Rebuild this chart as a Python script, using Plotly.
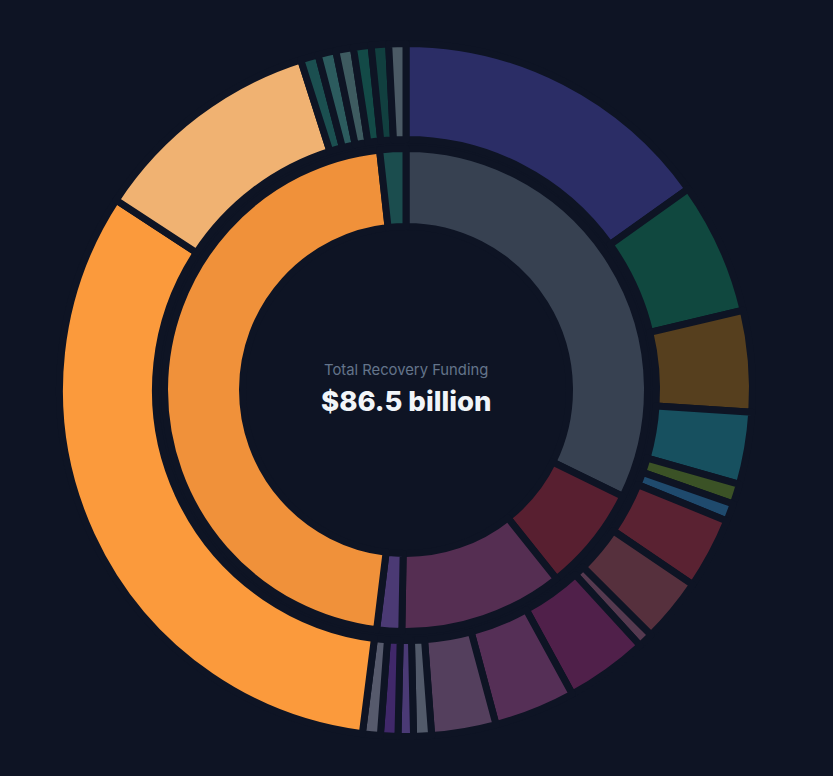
import plotly.graph_objects as go

# inner ring (programme areas), values in $ billion
inner_labels = ["Infrastructure", "Health", "Social Services", "Education", "Housing", "Environment"]
inner_values = [27.9, 6.08, 9.5, 1.44, 40.05, 1.51]
inner_colors = ["#374151", "#581f30", "#552e52", "#4b3a74", "#f0913a", "#1b4d4e"]

# outer ring (individual programmes), values in $ billion
outer_labels = ["Roads & Bridges", "Water Systems", "Energy Grid", "Public Transit", "Broadband", "Ports",
                "Hospitals", "Public Health", "Mental Health", "Income Support", "Child Care", "Elder Care",
                "Food Security", "Schools", "Skills Training", "Universities",
                "Housing Reconstruction", "Rental Assistance",
                "Flood Defence", "Reforestation", "Clean Air", "Coastal Repair", "Wildlife", "Waste"]
outer_values = [13.10, 5.33, 4.08, 2.91, 0.82, 0.72,
                2.88, 2.60, 0.60, 3.32, 3.27, 2.60,
                0.72, 0.62, 0.70, 0.72,
                27.87, 9.39,
                0.72, 0.72, 0.71, 0.71, 0.70, 0.69]
outer_colors = ["#2b2d66", "#10483f", "#563f1e", "#17505f", "#3b5226", "#1f4a6d",
                "#5a2232", "#56303d", "#55394f", "#50204a", "#552f56", "#543f5d",
                "#525a6a", "#4a3a75", "#40286a", "#565a6c",
                "#fb9a3c", "#f0b272",
                "#1b4f50", "#2c5b5e", "#3e5b60", "#134a47", "#113f3f", "#4b5a65"]

total = sum(inner_values)
bg = "#0e1424"

fig = go.Figure()

fig.add_trace(go.Pie(
    labels=outer_labels, values=outer_values,
    hole=0.723, sort=False, direction="clockwise", rotation=0,
    marker=dict(colors=outer_colors, line=dict(color=bg, width=7)),
    textinfo="none", hovertemplate="%{label}<br>$%{value:.2f}B<extra></extra>",
    domain=dict(x=[0.0714, 0.9034], y=[0.0509, 0.9440]),
    showlegend=False,
))

fig.add_trace(go.Pie(
    labels=inner_labels, values=inner_values,
    hole=0.677, sort=False, direction="clockwise", rotation=0,
    marker=dict(colors=inner_colors, line=dict(color=bg, width=7)),
    textinfo="none", hovertemplate="%{label}<br>$%{value:.2f}B<extra></extra>",
    domain=dict(x=[0.1975, 0.7773], y=[0.1862, 0.8086]),
    showlegend=False,
))

fig.add_annotation(x=0.4874, y=0.5232, xref="paper", yref="paper", showarrow=False,
                   text="Total Recovery Funding",
                   font=dict(family="Inter", size=14.8, color="#64748b"))
fig.add_annotation(x=0.4874, y=0.4832, xref="paper", yref="paper", showarrow=False,
                   text=f"${total:.1f} billion",
                   font=dict(family="Inter", size=27.5, color="#f1f5f9", weight=800))

fig.update_layout(
    width=833, height=776,
    margin=dict(l=0, r=0, t=0, b=0),
    paper_bgcolor=bg, plot_bgcolor=bg,
)

fig.write_html("out.html", config={"displayModeBar": False},
               post_script="document.body.style.margin='0';document.body.style.background='#0e1424';document.body.style.overflow='hidden';")
